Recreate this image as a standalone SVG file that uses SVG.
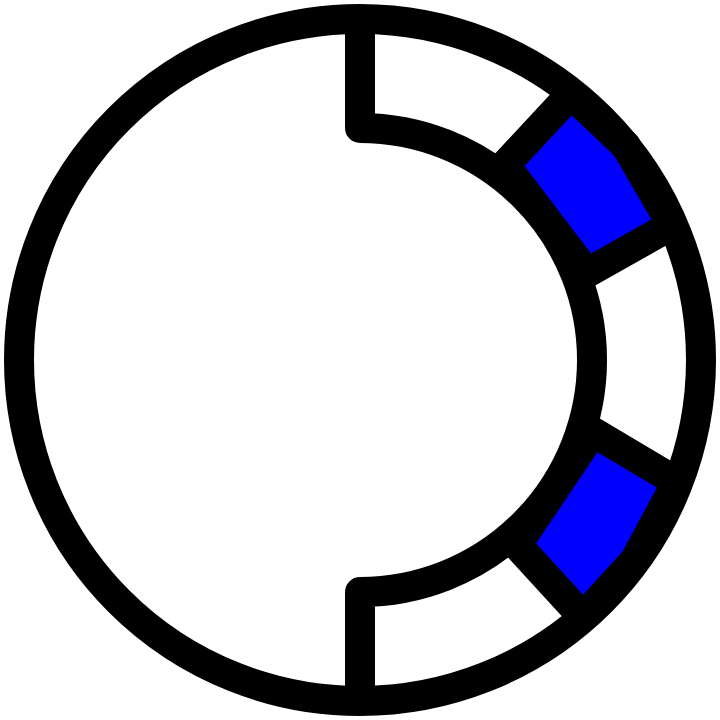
<svg xmlns="http://www.w3.org/2000/svg" width="720" height="720" viewBox="0 0 720 720">
  <style>
    .seg { fill: #0000ff; stroke: #000000; stroke-width: 30; stroke-linejoin: round; }
    .line { fill: none; stroke: #000000; stroke-width: 30; stroke-linejoin: round; }
  </style>
  <rect width="720" height="720" fill="#ffffff"/>
  <g id="segment-upper">
    <path class="seg" d="M505,165 L571,94 L626,146 L672,225 L587,273 Z"/>
  </g>
  <g id="segment-lower">
    <path class="seg" d="M593,432 L677,482 L635,560 L583,617 L517,545 Z"/>
  </g>
  <g id="outer-ring">
    <circle class="line" cx="360" cy="360" r="341"/>
  </g>
  <g id="inner-arc">
    <path class="line" d="M360,19 V128 A232,232 0 0 1 360,592 V701"/>
  </g>
</svg>
